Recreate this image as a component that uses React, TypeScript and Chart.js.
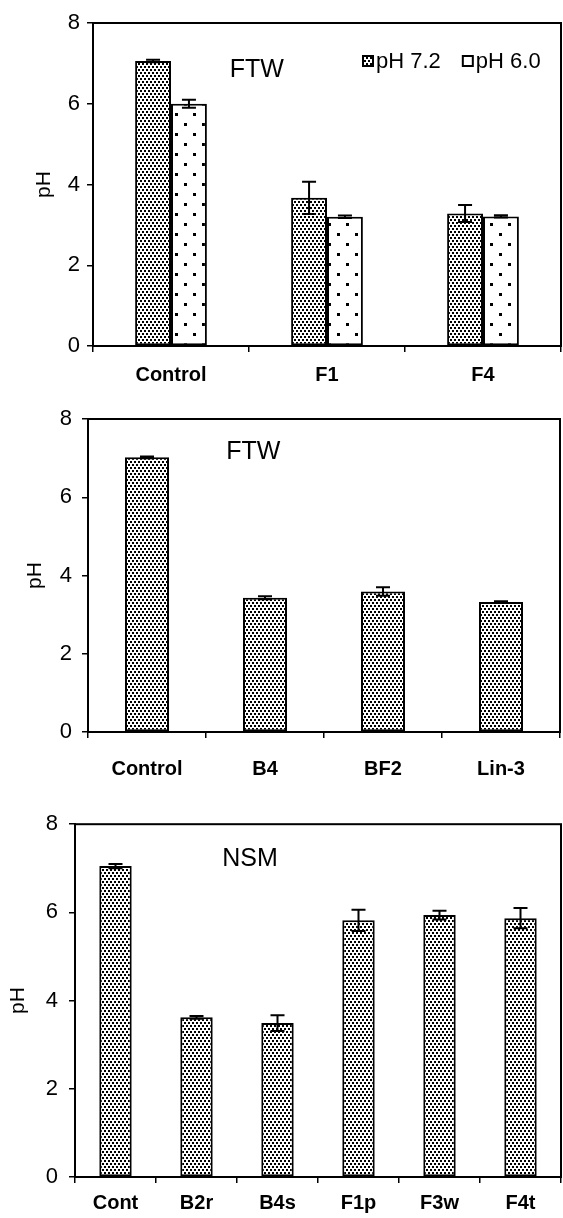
import React, { useEffect, useRef } from "react";
import { Chart, registerables } from "chart.js";

Chart.register(...registerables);

const FONT = "'Liberation Sans', Arial, Helvetica, sans-serif";

// ---------- Data ----------
const yTicks = [0, 2, 4, 6, 8];
const axisTitle = "pH";

const panel1Categories = ["Control", "F1", "F4"];
const panel1SeriesNames = ["pH 7.2", "pH 6.0"];
const panel1Ph72 = [7.06, 3.67, 3.28];
const panel1Ph72Err = [0.03, 0.4, 0.21];
const panel1Ph60 = [6.0, 3.2, 3.21];
const panel1Ph60Err = [0.1, 0.03, 0.03];
const panel1Label = "FTW";

const panel2Categories = ["Control", "B4", "BF2", "Lin-3"];
const panel2Values = [7.02, 3.43, 3.59, 3.32];
const panel2Err = [0.02, 0.04, 0.11, 0.02];
const panel2Label = "FTW";

const panel3Categories = ["Cont", "B2r", "B4s", "F1p", "F3w", "F4t"];
const panel3Values = [7.05, 3.62, 3.49, 5.82, 5.94, 5.87];
const panel3Err = [0.05, 0.03, 0.18, 0.24, 0.1, 0.23];
const panel3Label = "NSM";

// ---------- Patterns ----------
function densePattern(): CanvasPattern | string {
  const c = document.createElement("canvas");
  c.width = 4;
  c.height = 6;
  const g = c.getContext("2d");
  if (!g) return "#888";
  g.fillStyle = "#fff";
  g.fillRect(0, 0, 4, 6);
  g.fillStyle = "#000";
  g.fillRect(0, 0, 2, 2);
  g.fillRect(2, 3, 2, 2);
  return g.createPattern(c, "repeat") || "#888";
}

function sparsePattern(): CanvasPattern | string {
  const c = document.createElement("canvas");
  c.width = 18;
  c.height = 20;
  const g = c.getContext("2d");
  if (!g) return "#fff";
  g.fillStyle = "#fff";
  g.fillRect(0, 0, 18, 20);
  g.fillStyle = "#000";
  g.fillRect(4, 3, 3, 3);
  g.fillRect(13, 13, 3, 3);
  return g.createPattern(c, "repeat") || "#fff";
}

type Series = { label: string; data: number[]; err: number[]; kind: "dense" | "sparse" };

type PanelProps = {
  canvasTop: number;
  canvasHeight: number;
  plotLeft: number;
  plotRight: number;
  plotTop: number;
  plotBottom: number;
  titlePad: number;
  yTickPad: number;
  xTickPad: number;
  categories: string[];
  series: Series[];
  categoryPercentage: number;
  note: string;
  noteFx: number;
  noteDy: number;
  legend?: { x: number; dy: number; gap: number };
};

const W = 563;

function Panel(p: PanelProps) {
  const ref = useRef<HTMLCanvasElement | null>(null);

  useEffect(() => {
    const canvas = ref.current;
    if (!canvas) return;
    const dense = densePattern();
    const sparse = sparsePattern();

    const datasets = p.series.map((s) => ({
      label: s.label,
      data: s.data,
      errorBars: s.err,
      backgroundColor: s.kind === "dense" ? dense : sparse,
      borderColor: "#000",
      borderWidth: 2,
      borderSkipped: false as const,
      categoryPercentage: p.categoryPercentage,
      barPercentage: 1,
    }));

    const framePlugin = {
      id: "frameAndExtras",
      afterDatasetsDraw(chart: any) {
        const ctx = chart.ctx as CanvasRenderingContext2D;
        const ca = chart.chartArea;
        const yScale = chart.scales.y;
        ctx.save();
        // error bars
        ctx.strokeStyle = "#000";
        ctx.lineWidth = 2;
        chart.data.datasets.forEach((ds: any, di: number) => {
          const meta = chart.getDatasetMeta(di);
          meta.data.forEach((bar: any, i: number) => {
            const v = ds.data[i];
            const e = ds.errorBars[i];
            const yt = yScale.getPixelForValue(v + e);
            const yb = yScale.getPixelForValue(v - e);
            const x = bar.x;
            const hw = 7;
            ctx.beginPath();
            ctx.moveTo(x, yt);
            ctx.lineTo(x, yb);
            ctx.moveTo(x - hw, yt);
            ctx.lineTo(x + hw, yt);
            ctx.moveTo(x - hw, yb);
            ctx.lineTo(x + hw, yb);
            ctx.stroke();
          });
        });
        // frame
        ctx.lineWidth = 2;
        ctx.strokeRect(ca.left, ca.top, ca.right - ca.left, ca.bottom - ca.top);
        // note
        ctx.fillStyle = "#000";
        ctx.font = `25px ${FONT}`;
        ctx.textAlign = "center";
        ctx.textBaseline = "middle";
        ctx.fillText(p.note, ca.left + (ca.right - ca.left) * p.noteFx, ca.top + p.noteDy);
        // legend
        if (p.legend) {
          let x = p.legend.x;
          const y = ca.top + p.legend.dy;
          ctx.font = `22px ${FONT}`;
          ctx.textAlign = "left";
          chart.data.datasets.forEach((ds: any) => {
            ctx.fillStyle = ds.backgroundColor;
            ctx.fillRect(x, y - 5, 10, 10);
            ctx.lineWidth = 2;
            ctx.strokeRect(x, y - 5, 10, 10);
            ctx.fillStyle = "#000";
            ctx.fillText(ds.label, x + 13, y + 1);
            const tw = ctx.measureText(ds.label).width;
            x += 13 + tw + p.legend!.gap;
          });
        }
        ctx.restore();
      },
    };

    const chart = new Chart(canvas, {
      type: "bar",
      data: { labels: p.categories, datasets: datasets as any },
      options: {
        animation: false,
        responsive: false,
        devicePixelRatio: 1,
        layout: {
          padding: { left: 0, top: p.plotTop, right: W - p.plotRight, bottom: 0 },
        },
        plugins: {
          legend: { display: false },
          tooltip: { enabled: false },
        },
        scales: {
          x: {
            grid: {
              display: true,
              drawOnChartArea: false,
              drawTicks: true,
              tickLength: 6,
              color: "#000",
              lineWidth: 1.5,
              offset: true,
            },
            border: { display: true, color: "#000", width: 2 },
            ticks: {
              color: "#000",
              padding: p.xTickPad,
              font: { family: FONT, size: 20, weight: "bold" },
              maxRotation: 0,
            },
            afterFit(scale: any) {
              scale.height = p.canvasHeight - p.plotBottom;
            },
          },
          y: {
            min: yTicks[0],
            max: yTicks[yTicks.length - 1],
            afterBuildTicks(scale: any) {
              scale.ticks = yTicks.map((v) => ({ value: v }));
            },
            grid: {
              display: true,
              drawOnChartArea: false,
              drawTicks: true,
              tickLength: 6,
              color: "#000",
              lineWidth: 1.5,
            },
            border: { display: true, color: "#000", width: 2 },
            ticks: {
              color: "#000",
              padding: p.yTickPad,
              font: { family: FONT, size: 22 },
            },
            title: {
              display: true,
              text: axisTitle,
              color: "#000",
              font: { family: FONT, size: 21 },
              padding: { top: p.titlePad, bottom: 0 },
            },
            afterFit(scale: any) {
              scale.width = p.plotLeft;
            },
          },
        },
      },
      plugins: [framePlugin],
    });
    return () => chart.destroy();
  }, []);

  return (
    <canvas
      ref={ref}
      width={W}
      height={p.canvasHeight}
      style={{ position: "absolute", left: 0, top: p.canvasTop, width: W, height: p.canvasHeight }}
    />
  );
}

export default function App() {
  return (
    <div style={{ position: "absolute", left: 0, top: 0, width: W, height: 1218, background: "#fff" }}>
      <Panel
        canvasTop={0}
        canvasHeight={392}
        plotLeft={93}
        plotRight={561}
        plotTop={23}
        plotBottom={346}
        titlePad={32}
        yTickPad={7}
        xTickPad={11}
        categories={panel1Categories}
        series={[
          { label: panel1SeriesNames[0], data: panel1Ph72, err: panel1Ph72Err, kind: "dense" },
          { label: panel1SeriesNames[1], data: panel1Ph60, err: panel1Ph60Err, kind: "sparse" },
        ]}
        categoryPercentage={0.46}
        note={panel1Label}
        noteFx={0.35}
        noteDy={47}
        legend={{ x: 363, dy: 38, gap: 22 }}
      />
      <Panel
        canvasTop={392}
        canvasHeight={408}
        plotLeft={88}
        plotRight={560}
        plotTop={27}
        plotBottom={340}
        titlePad={23}
        yTickPad={10}
        xTickPad={19}
        categories={panel2Categories}
        series={[{ label: "pH", data: panel2Values, err: panel2Err, kind: "dense" }]}
        categoryPercentage={0.373}
        note={panel2Label}
        noteFx={0.35}
        noteDy={33}
      />
      <Panel
        canvasTop={800}
        canvasHeight={418}
        plotLeft={75}
        plotRight={561}
        plotTop={17}
        plotBottom={377}
        titlePad={6}
        yTickPad={11}
        xTickPad={8}
        categories={panel3Categories}
        series={[{ label: "pH", data: panel3Values, err: panel3Err, kind: "dense" }]}
        categoryPercentage={0.4}
        note={panel3Label}
        noteFx={0.36}
        noteDy={35}
      />
    </div>
  );
}
